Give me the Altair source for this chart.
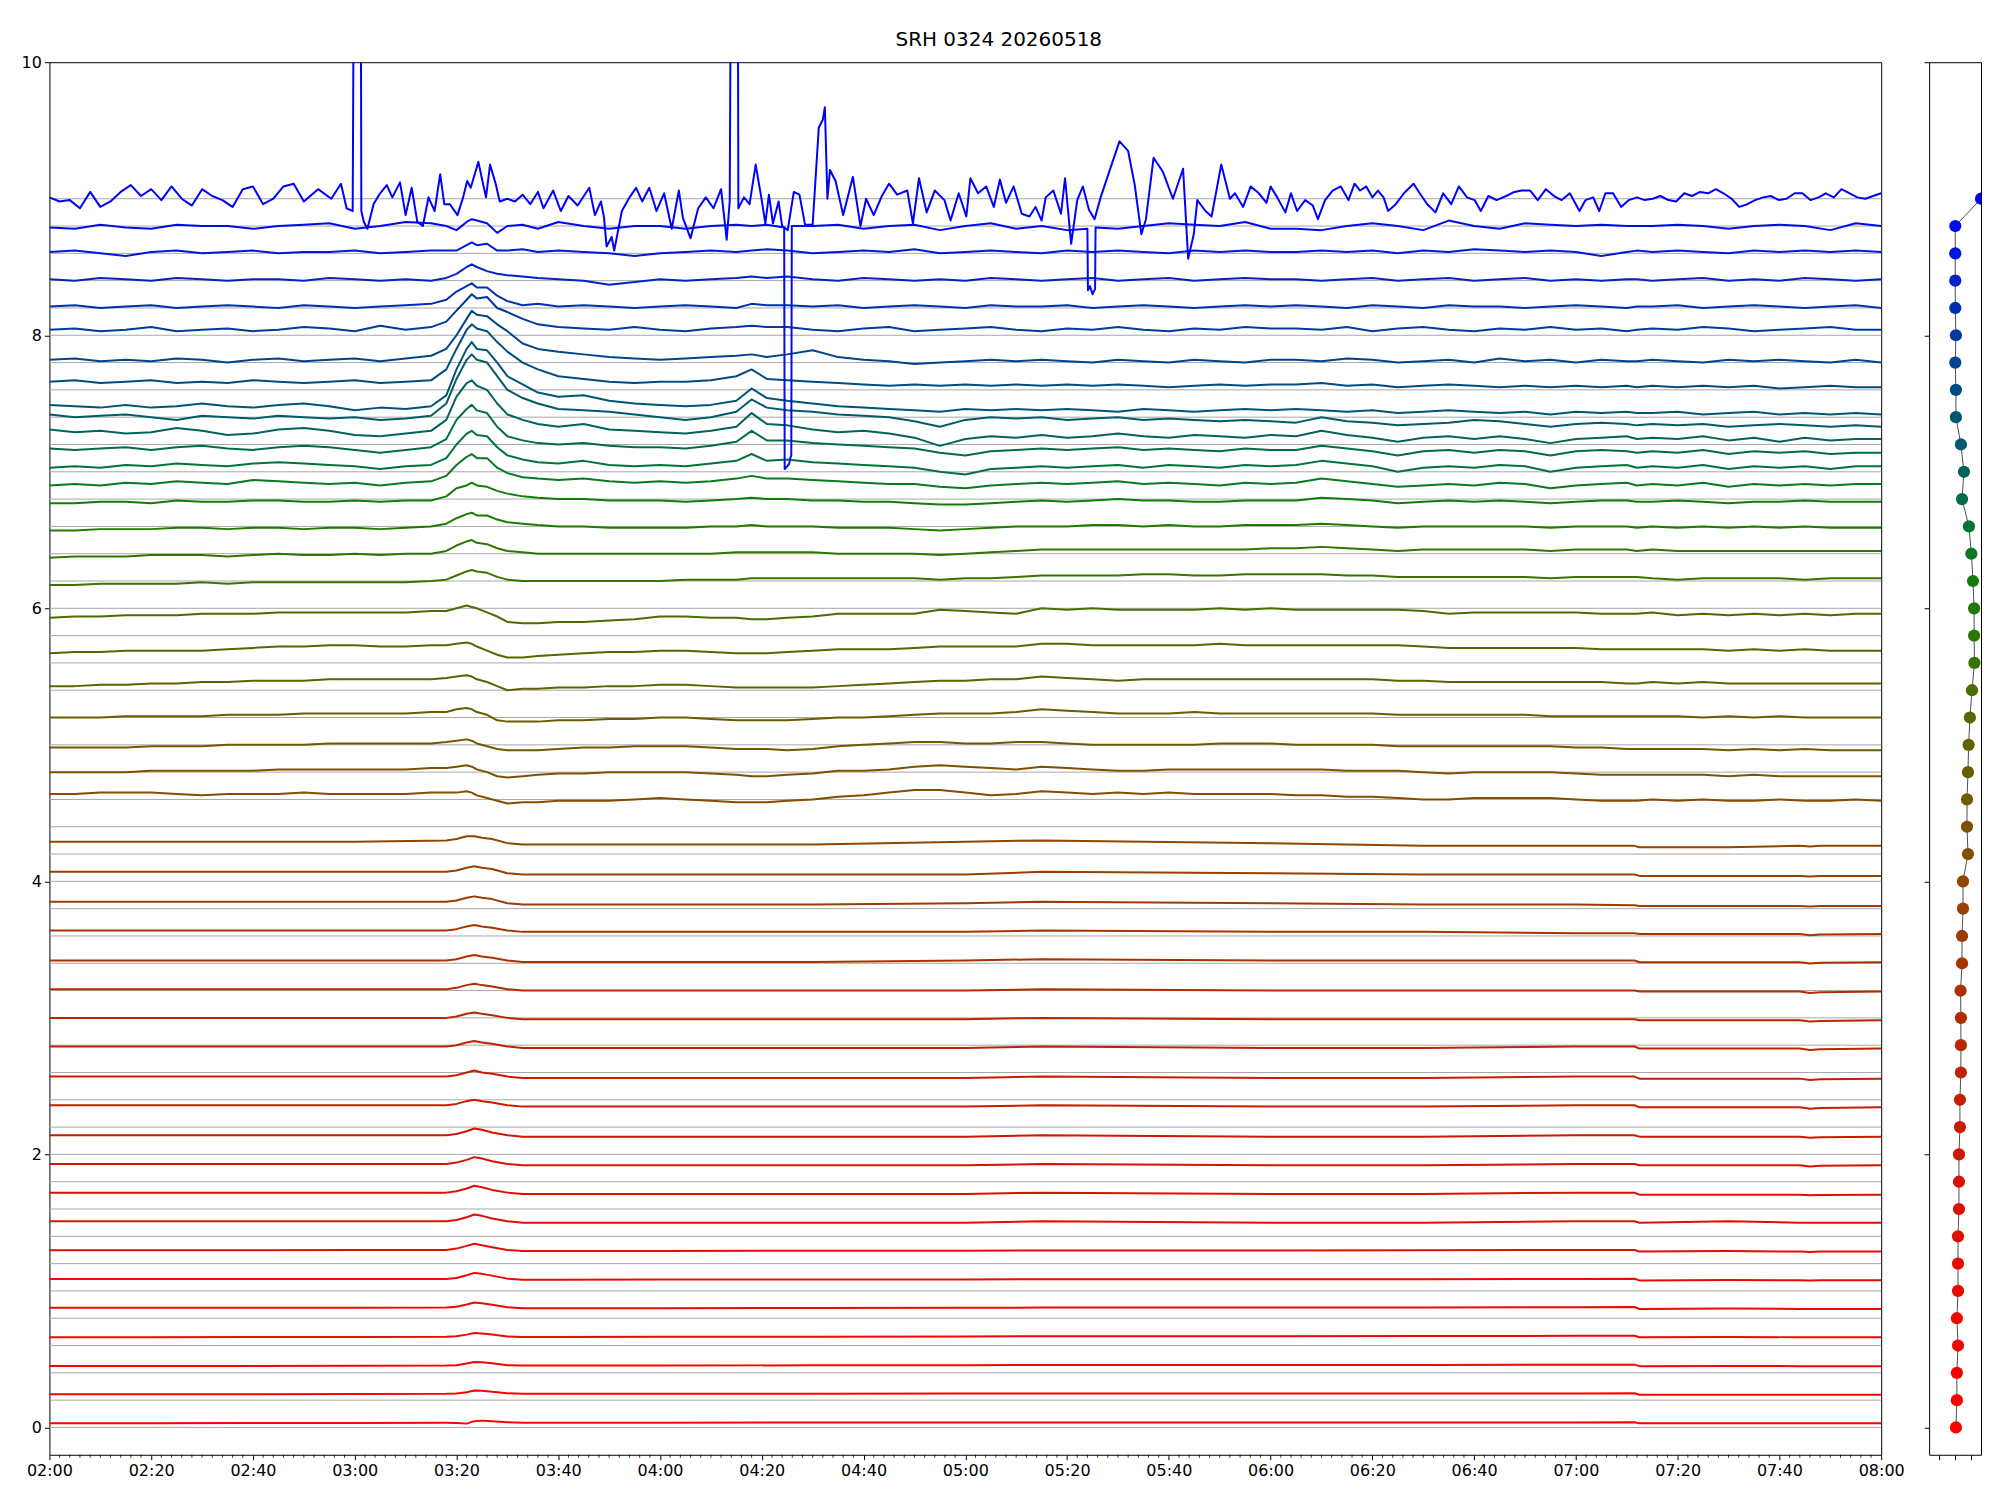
import altair as alt
import pandas as pd

alt.data_transformers.disable_max_rows()

TITLE = "SRH 0324 20260518"

# ---- time grids (minutes after 02:00) ----
TG = ([0, 5, 10, 15, 20, 25, 30, 35, 40, 45, 50, 55, 60, 65, 70, 75]
      + [78, 80, 82, 83, 84, 86, 88, 90]
      + [93, 96, 100, 105, 110, 115, 120, 125, 130, 135]
      + [138, 141]
      + [145, 150, 155, 160, 165, 170, 175, 180, 185, 190]
      + [195, 200, 205, 210, 215, 220, 225, 230, 235, 240]
      + [245, 250, 255, 260, 265, 270, 275, 280, 285, 290, 295]
      + [300, 305, 310, 312]
      + [315, 320, 325, 330, 335, 340, 345, 350, 355, 360])

TQ = [0, 20, 40, 60, 78, 80, 82, 83.5, 85, 87, 90, 93, 100, 120, 150, 180,
      195, 240, 270, 300, 311.5, 312.5, 330, 344, 346, 348, 360]

# channel levels (grey guide lines and dots of the right panel)
LEVELS = [round(0.2 * k, 1) for k in range(46)]

# right panel x position of each channel dot (channel 0 .. 45)
DOT_X = [2.04, 2.10, 2.10, 2.17, 2.10, 2.17, 2.17, 2.17, 2.23, 2.23,
         2.23, 2.29, 2.29, 2.35, 2.35, 2.35, 2.33, 2.42, 2.42, 2.48,
         2.48, 2.79, 2.73, 2.73, 2.79, 2.83, 2.91, 3.04, 3.19, 3.17,
         3.17, 3.10, 3.00, 2.85, 2.42, 2.54, 2.35, 2.04, 2.04, 2.00,
         2.04, 2.00, 2.00, 2.00, 2.00, 3.60]

COLORS = ["#ff0000", "#fb0200", "#f70400", "#f20600", "#ee0800", "#e90a00",
          "#e40c00", "#df0e00", "#da1000", "#d51300", "#d01600", "#ca1a00",
          "#c41e00", "#be2200", "#b82700", "#b22c00", "#ac3100", "#a53600",
          "#9e3b00", "#974000", "#904500", "#864c00", "#7c5200", "#725800",
          "#685e00", "#5e6300", "#546800", "#4a6d00", "#3c7200", "#2e7600",
          "#207a00", "#127c08", "#087a20", "#027438", "#006c4a", "#00645a",
          "#005c68", "#005474", "#004c80", "#00448c", "#003a9c", "#0030ae",
          "#0024c4", "#0018d8", "#000cec", "#0000ff"]

# ---- quiet channels on TQ (values x100) ----
QUIET = {
    0: [3.1, 3.1, 3.2, 3.3, 3.4, 3.3, 2.8, 4.6, 5, 4.6, 3.8, 3.5, 3.5, 3.5, 3.6, 3.6, 3.6, 3.6, 3.7, 3.7, 3.8, 3, 3, 3, 3, 3, 3],
    1: [24.3, 24.3, 24.4, 24.5, 24.6, 24.9, 25.8, 27, 26.8, 26.2, 25, 24.6, 24.6, 24.7, 24.7, 24.8, 24.8, 24.8, 24.9, 24.9, 25, 23.9, 24, 24, 24, 24, 24],
    2: [45, 45, 45.1, 45.2, 45.3, 45.6, 46.8, 48, 47.7, 47, 45.6, 45.3, 45.3, 45.4, 45.5, 45.6, 45.7, 45.7, 45.8, 45.9, 46, 44.9, 45, 44.9, 44.9, 44.9, 44.9],
    3: [66.1, 66.1, 66.2, 66.3, 66.4, 66.8, 68, 69.2, 68.8, 68, 66.6, 66.3, 66.3, 66.4, 66.5, 66.6, 66.8, 66.8, 66.9, 67.1, 67.2, 66.1, 66.3, 66.1, 66, 66.1, 66.1],
    4: [87.6, 87.6, 87.7, 87.7, 87.8, 88.4, 90, 91.5, 91, 89.8, 88, 87.3, 87.3, 87.4, 87.5, 87.6, 87.8, 87.8, 87.9, 88.1, 88.2, 86.8, 87.1, 86.8, 86.7, 86.8, 86.8],
    5: [108.7, 108.7, 108.8, 108.8, 108.8, 109.5, 111.5, 113.2, 112.5, 111.2, 109, 108.2, 108.2, 108.3, 108.3, 108.4, 108.6, 108.5, 108.5, 108.8, 108.9, 107.7, 108, 107.8, 107.6, 107.8, 107.8],
    6: [129.8, 129.8, 129.8, 129.9, 130, 131, 133, 134.5, 133.5, 132, 130, 129.2, 129.2, 129.3, 129.4, 129.5, 129.7, 129.7, 129.8, 130, 130, 128.8, 129.2, 128.8, 128.6, 128.8, 128.8],
    7: [151, 151, 151, 151, 151, 152, 154, 156, 155, 153, 151, 150, 150, 150, 150, 150, 151, 150, 150, 151, 151, 150, 151, 150, 150, 150, 150],
    8: [172, 172, 172, 172, 172, 173, 175, 177, 176, 174, 172, 171, 171, 171, 171, 171, 172, 171, 171, 172, 172, 170.5, 170.5, 170.5, 170, 170.3, 170.5],
    9: [193, 193, 193, 193, 193, 194, 196, 198, 197, 195, 193, 192, 192, 192, 192, 192, 193, 192, 192, 193, 193, 192, 192, 192, 191.2, 191.6, 192],
    10: [214, 214, 214, 214, 214, 215, 217, 219, 218, 216, 214, 213, 213, 213, 213, 213, 214, 213, 213, 214, 214, 213, 213, 213, 212.2, 212.6, 213],
    11: [236, 236, 236, 236, 236, 237, 239, 240, 239, 238, 236, 235, 235, 235, 235, 235, 236, 235, 235, 236, 236, 234.5, 234.5, 234.5, 233.5, 234, 234.5],
    12: [257, 257, 257, 257, 257, 258, 260, 261.5, 260, 259, 257, 256, 256, 256, 256, 256, 257, 256, 256, 257, 257, 255.5, 255.5, 255.5, 254.5, 255, 255.5],
    13: [279, 279, 279, 279, 279, 280, 282, 283, 282, 281, 279, 278, 278, 278, 278, 278, 279, 278, 278, 279, 279, 277.5, 277.5, 277.5, 276.5, 277, 277.5],
    14: [300, 300, 300, 300, 300, 301, 303, 304, 303, 302, 300, 299, 299, 299, 299, 299, 300, 299, 299, 299, 299, 298.3, 298.3, 298.3, 297.3, 297.8, 298.3],
    15: [321, 321, 321, 321, 321, 322, 324, 325, 324, 323, 321, 320, 320, 320, 320, 320, 321, 320, 320, 320, 320, 319.3, 319.3, 319.3, 318.3, 318.8, 319.3],
    16: [342, 342, 342, 342, 342, 343, 345, 346, 345, 344, 342, 341, 341, 341, 341, 342, 343, 342, 342, 342, 342, 340.8, 340.8, 340.8, 339.8, 340.3, 340.8],
    17: [364, 364, 364, 364, 364, 365, 367, 368, 367, 366, 364, 363, 363, 363, 363, 363, 364, 363, 363, 362, 362, 361.5, 361.5, 361.5, 360.5, 361, 361.5],
    18: [385, 385, 385, 385, 385, 386, 388, 389, 388, 387, 384, 383, 383, 383, 383, 384, 385, 384, 383, 383, 382.5, 382, 382, 382, 381.5, 382, 382],
    19: [407, 407, 407, 407, 407, 408, 410, 411, 410, 409, 406, 405, 405, 405, 405, 405, 407, 406, 405, 405, 405, 404, 404, 404, 403.6, 404, 404],
    20: [429, 429, 429, 429, 430, 431, 433, 433, 432, 431, 428, 427, 427, 427, 427, 429, 430, 428, 426, 426, 426, 425, 425, 426, 425.5, 426, 426],
}

# ---- wiggly channels on TG (values x100) ----
WIGGLY = {
    21: [464, 464, 465, 465, 465, 464, 463, 464, 464, 464, 465, 464, 464, 464, 464, 465,
         465, 465, 466, 465, 463, 461, 459, 457,
         458, 458, 459, 459, 459, 460, 461, 460, 459, 458,
         458, 458,
         459, 460, 462, 463, 465, 467, 467, 465, 463, 464,
         466, 465, 464, 465, 464, 465, 464, 464, 464, 464,
         463, 463, 462, 462, 461, 460, 460, 461, 461, 461, 461,
         460, 459, 459, 459,
         460, 459, 460, 459, 459, 460, 459, 459, 460, 459],
    22: [480, 480, 480, 480, 481, 481, 481, 481, 481, 482, 482, 482, 482, 482, 482, 483,
         483, 484, 485, 484, 482, 480, 477, 476,
         477, 478, 479, 479, 480, 480, 480, 480, 479, 478,
         477, 477,
         478, 479, 481, 481, 482, 484, 485, 484, 483, 482,
         484, 483, 482, 481, 481, 482, 482, 482, 482, 482,
         482, 482, 481, 481, 481, 480, 479, 480, 480, 480, 480,
         479, 478, 478, 478,
         478, 478, 478, 477, 478, 477, 477, 477, 477, 477],
    23: [498, 498, 498, 498, 499, 499, 499, 500, 500, 500, 500, 501, 501, 501, 501, 501,
         502, 503, 504, 503, 501, 499, 497, 496,
         496, 496, 497, 498, 498, 499, 499, 499, 498, 497,
         497, 497,
         496, 497, 499, 500, 501, 502, 502, 501, 501, 502,
         502, 501, 500, 500, 500, 500, 500, 501, 501, 501,
         500, 500, 500, 500, 499, 499, 499, 499, 499, 499, 499,
         498, 498, 497, 497,
         497, 497, 497, 496, 497, 496, 497, 496, 496, 496],
    24: [520, 520, 520, 521, 521, 521, 521, 522, 522, 522, 523, 523, 523, 523, 523, 524,
         524, 526, 527, 526, 524, 522, 518, 517,
         517, 517, 518, 518, 519, 519, 520, 520, 519, 518,
         518, 518,
         518, 519, 520, 520, 521, 522, 523, 523, 523, 524,
         526, 525, 524, 523, 523, 523, 524, 523, 523, 523,
         523, 523, 523, 523, 522, 522, 522, 522, 522, 522, 521,
         521, 521, 521, 521,
         521, 521, 520, 521, 520, 521, 520, 520, 520, 520],
    25: [543, 543, 544, 544, 545, 545, 546, 546, 547, 547, 547, 548, 548, 548, 548, 548,
         549, 550, 551, 550, 548, 546, 543, 540,
         541, 541, 542, 542, 543, 543, 544, 544, 543, 542,
         542, 542,
         542, 542, 543, 544, 545, 546, 547, 547, 548, 548,
         550, 549, 548, 547, 548, 548, 548, 548, 548, 548,
         548, 548, 548, 548, 547, 547, 546, 546, 546, 546, 546,
         546, 546, 545, 545,
         546, 545, 546, 545, 545, 545, 545, 545, 545, 545],
    26: [567, 568, 568, 569, 569, 569, 569, 570, 571, 572, 572, 573, 573, 572, 572, 573,
         573, 574, 575, 574, 572, 569, 566, 564,
         564, 565, 566, 567, 568, 568, 569, 569, 568, 567,
         567, 567,
         568, 569, 570, 570, 570, 571, 572, 572, 572, 572,
         574, 574, 573, 573, 573, 573, 573, 574, 573, 573,
         573, 573, 573, 573, 573, 572, 571, 571, 571, 571, 571,
         571, 570, 570, 570,
         570, 570, 570, 569, 570, 569, 570, 569, 569, 569],
    27: [593, 594, 594, 595, 595, 595, 596, 596, 596, 597, 597, 597, 597, 597, 597, 598,
         598, 600, 602, 601, 600, 597, 594, 590,
         589, 589, 590, 590, 591, 592, 594, 594, 593, 593,
         592, 592,
         593, 594, 596, 596, 596, 596, 599, 598, 597, 596,
         600, 599, 600, 599, 599, 599, 599, 600, 599, 600,
         599, 599, 599, 599, 599, 598, 596, 597, 597, 597, 597,
         597, 596, 596, 596,
         597, 595, 596, 595, 596, 595, 596, 595, 596, 596],
    28: [617, 617, 618, 618, 618, 618, 619, 618, 619, 619, 619, 619, 619, 619, 619, 620,
         621, 624, 627, 628, 627, 626, 623, 621,
         620, 620, 620, 620, 620, 620, 620, 621, 621, 621,
         622, 622,
         622, 622, 622, 622, 622, 622, 621, 622, 622, 623,
         624, 624, 624, 624, 625, 625, 624, 624, 625, 625,
         625, 625, 624, 624, 623, 623, 623, 623, 623, 623, 622,
         623, 623, 623, 623,
         622, 621, 622, 622, 622, 622, 621, 622, 622, 622],
    29: [637, 638, 638, 638, 639, 639, 639, 638, 639, 640, 639, 639, 640, 639, 640, 640,
         642, 646, 649, 650, 648, 647, 644, 642,
         641, 640, 640, 640, 640, 640, 640, 640, 640, 641,
         641, 641,
         641, 641, 640, 640, 640, 640, 639, 640, 641, 642,
         643, 643, 643, 643, 643, 643, 643, 643, 643, 644,
         644, 645, 644, 643, 642, 643, 643, 643, 643, 643, 642,
         643, 643, 643, 642,
         643, 642, 642, 642, 642, 642, 642, 642, 642, 642],
    30: [657, 657, 658, 658, 658, 659, 659, 658, 659, 659, 658, 659, 659, 658, 659, 660,
         662, 666, 669, 670, 668, 668, 665, 663,
         662, 661, 660, 660, 659, 659, 659, 659, 660, 660,
         661, 660,
         660, 660, 659, 659, 659, 658, 657, 658, 659, 660,
         660, 660, 661, 661, 660, 661, 660, 660, 661, 661,
         661, 662, 661, 660, 659, 660, 660, 660, 660, 660, 659,
         660, 660, 660, 659,
         660, 659, 660, 659, 660, 659, 660, 659, 659, 659],
    31: [677, 677, 678, 678, 677, 679, 678, 678, 679, 679, 678, 678, 679, 678, 679, 679,
         682, 688, 690, 692, 690, 689, 686, 684,
         682, 681, 680, 680, 679, 679, 679, 678, 679, 680,
         681, 680,
         680, 679, 679, 678, 678, 677, 676, 676, 677, 678,
         679, 678, 679, 680, 679, 679, 678, 678, 679, 679,
         679, 681, 680, 679, 677, 678, 679, 678, 679, 678, 677,
         678, 679, 679, 678,
         678, 679, 678, 677, 678, 678, 679, 678, 678, 678],
    32: [690, 691, 690, 692, 691, 693, 692, 691, 694, 693, 692, 691, 692, 690, 692, 693,
         697, 705, 711, 713, 710, 710, 703, 699,
         696, 695, 694, 695, 693, 692, 693, 692, 693, 695,
         697, 695,
         695, 694, 693, 692, 691, 691, 689, 688, 690, 691,
         692, 691, 692, 693, 691, 692, 691, 690, 692, 691,
         692, 695, 693, 691, 689, 690, 691, 690, 692, 691, 688,
         690, 691, 692, 690,
         691, 690, 692, 689, 691, 690, 691, 690, 691, 691],
    33: [703, 704, 703, 705, 704, 706, 705, 704, 706, 707, 706, 705, 704, 702, 704, 705,
         710, 720, 728, 730, 727, 726, 718, 712,
         709, 707, 706, 708, 705, 704, 705, 704, 706, 708,
         713, 708,
         709, 707, 706, 705, 704, 703, 700, 698, 702, 703,
         704, 703, 704, 705, 703, 705, 704, 703, 705, 704,
         705, 708, 706, 704, 700, 703, 704, 703, 705, 704, 700,
         703, 704, 705, 703,
         704, 703, 705, 702, 704, 703, 704, 702, 704, 704],
    34: [717, 716, 717, 718, 716, 718, 719, 717, 716, 718, 719, 718, 716, 714, 716, 718,
         724, 738, 746, 749, 745, 743, 733, 726,
         723, 721, 720, 721, 719, 718, 718, 717, 719, 722,
         730, 723,
         723, 721, 720, 719, 718, 717, 714, 712, 715, 716,
         717, 716, 717, 718, 716, 717, 716, 715, 717, 716,
         716, 719, 717, 715, 712, 715, 716, 714, 716, 715, 712,
         715, 716, 715, 714,
         715, 714, 716, 713, 715, 714, 715, 713, 714, 714],
    35: [731, 729, 730, 728, 729, 732, 730, 727, 728, 731, 732, 730, 727, 726, 728, 730,
         738, 755, 765, 767, 763, 760, 750, 742,
         738, 735, 733, 735, 731, 730, 729, 728, 730, 733,
         743, 735,
         734, 731, 729, 730, 728, 725, 719, 724, 726, 725,
         727, 725, 726, 728, 726, 725, 727, 726, 725, 727,
         726, 730, 727, 725, 722, 725, 726, 724, 726, 724, 721,
         724, 725, 726, 724,
         725, 724, 726, 723, 725, 722, 725, 723, 724, 724],
    36: [742, 740, 741, 742, 740, 738, 741, 740, 739, 741, 740, 739, 740, 738, 739, 741,
         750, 768, 782, 786, 782, 780, 770, 760,
         754, 750, 746, 745, 744, 742, 740, 738, 740, 744,
         753, 747,
         745, 744, 742, 741, 740, 737, 733, 738, 740, 739,
         740, 738, 739, 740, 738, 739, 738, 737, 738, 737,
         736, 740, 737, 736, 734, 735, 736, 738, 737, 735, 733,
         735, 736, 735, 734,
         735, 734, 735, 733, 734, 735, 734, 733, 734, 733],
    37: [749, 748, 747, 749, 747, 748, 750, 748, 747, 749, 750, 748, 745, 747, 746, 748,
         756, 775, 790, 795, 790, 789, 780, 770,
         764, 758, 755, 756, 752, 750, 749, 748, 749, 752,
         761, 754,
         752, 750, 748, 747, 746, 745, 744, 746, 745, 746,
         745, 746, 745, 744, 746, 745, 744, 745, 746, 745,
         746, 745, 744, 745, 743, 744, 745, 744, 743, 744, 742,
         744, 743, 744, 743,
         743, 744, 742, 743, 744, 742, 743, 742, 743, 742],
    38: [766, 767, 765, 766, 767, 765, 766, 765, 767, 766, 765, 766, 767, 765, 766, 767,
         775, 790, 804, 808, 805, 803, 795, 788,
         780, 775, 770, 768, 766, 765, 766, 766, 767, 770,
         775, 768,
         767, 766, 765, 764, 763, 764, 763, 764, 763, 764,
         763, 764, 763, 764, 763, 762, 763, 764, 763, 764,
         764, 765, 763, 764, 762, 763, 764, 763, 762, 763, 762,
         763, 762, 763, 762,
         763, 762, 763, 762, 763, 761, 762, 763, 762, 762],
    39: [782, 783, 781, 782, 781, 783, 782, 780, 782, 783, 781, 782, 783, 781, 783, 785,
         790, 800, 812, 818, 815, 814, 808, 803,
         794, 790, 788, 786, 784, 783, 782, 783, 784, 785,
         786, 784,
         786, 789, 784, 782, 781, 779, 780, 781, 782, 781,
         782, 781, 780, 782, 781, 780, 782, 781, 780, 782,
         782, 781, 783, 782, 780, 781, 782, 780, 783, 781, 782,
         780, 782, 781, 781,
         782, 781, 780, 782, 781, 782, 781, 780, 782, 780],
    40: [804, 805, 803, 804, 806, 803, 804, 805, 803, 804, 806, 805, 803, 807, 804, 806,
         810, 818, 826, 830, 827, 828, 820, 817,
         812, 808, 806, 805, 804, 806, 804, 803, 805, 806,
         807, 806,
         806, 804, 803, 805, 806, 803, 804, 805, 806, 804,
         803, 805, 804, 806, 804, 803, 805, 804, 806, 805,
         805, 804, 806, 803, 805, 806, 804, 803, 805, 804, 806,
         804, 805, 803, 804,
         805, 804, 806, 805, 803, 804, 805, 806, 804, 804],
    41: [821, 822, 820, 821, 822, 820, 821, 822, 821, 820, 822, 821, 820, 821, 822, 823,
         826, 832, 836, 838, 835, 835, 829, 825,
         822, 823, 821, 822, 821, 820, 821, 822, 821, 820,
         823, 822,
         822, 821, 822, 820, 821, 822, 821, 820, 822, 821,
         821, 822, 820, 821, 822, 821, 820, 821, 822, 821,
         822, 821, 820, 822, 821, 820, 822, 821, 821, 820, 821,
         822, 821, 820, 821,
         821, 822, 820, 821, 822, 821, 820, 821, 822, 820],
    42: [841, 840, 842, 841, 840, 842, 841, 840, 841, 841, 840, 842, 841, 840, 841, 840,
         842, 845, 850, 852, 850, 847, 845, 844,
         843, 842, 841, 840, 837, 839, 841, 840, 841, 842,
         843, 842,
         843, 841, 840, 842, 841, 840, 841, 840, 842, 841,
         840, 841, 842, 840, 841, 842, 840, 841, 842, 841,
         841, 840, 841, 842, 840, 841, 842, 840, 841, 842, 840,
         841, 840, 841, 841,
         840, 841, 842, 840, 841, 840, 842, 841, 840, 841],
    43: [861, 862, 860, 858, 861, 862, 860, 861, 862, 860, 861, 861, 862, 860, 861, 862,
         862, 862, 866, 868, 866, 867, 862, 862,
         863, 861, 862, 861, 860, 858, 860, 861, 862, 861,
         862, 863,
         862, 860, 861, 862, 861, 863, 860, 861, 862, 861,
         860, 862, 861, 862, 861, 860, 862, 861, 862, 861,
         861, 862, 861, 862, 860, 862, 861, 863, 862, 861, 862,
         861, 858, 861, 862,
         861, 862, 861, 860, 862, 861, 862, 861, 862, 861],
    44: [879, 878, 881, 879, 878, 881, 880, 880, 878, 880, 881, 882, 878, 880, 883, 882,
         880, 877, 883, 885, 884, 882, 875, 880,
         881, 878, 883, 880, 878, 880, 880, 878, 880, 881,
         880, 881,
         880, 880, 881, 878, 880, 881, 877, 880, 882, 878,
         880, 877, 880, 878, 880, 882, 881, 880, 883, 878,
         878, 877, 880, 882, 880, 877, 884, 880, 878, 882, 881,
         880, 881, 880, 880,
         880, 881, 880, 878, 880, 881, 880, 877, 882, 880],
}

# narrow downward spikes of channel 44 (minutes, value)
SPIKES_44 = [
    [(144.4, 8.79), (144.5, 7.02), (145.0, 7.04), (145.4, 7.06), (145.6, 7.10), (145.8, 7.12), (145.9, 8.80)],
    [(204.0, 8.78), (204.1, 8.33), (204.5, 8.36), (205.0, 8.30), (205.5, 8.34), (205.6, 8.79)],
]

# top channel 45 (minutes, value)
CH45 = [
    (0, 9.01), (2, 8.98), (4, 8.99), (6, 8.93), (8, 9.05), (10, 8.94), (12, 8.98), (14, 9.05),
    (16, 9.10), (18, 9.02), (20, 9.07), (22, 8.99), (24, 9.09), (26, 9.00), (28, 8.95), (30, 9.07),
    (32, 9.02), (34, 8.99), (36, 8.94), (38, 9.07), (40, 9.09), (42, 8.96), (44, 9.00), (46, 9.09),
    (48, 9.11), (50, 8.98), (52.8, 9.07), (55.4, 9.00), (57.3, 9.11), (58.4, 8.93), (59.6, 8.91),
    (59.8, 10.6), (61.2, 10.6), (61.3, 8.91), (61.8, 8.83), (62.5, 8.78), (63.7, 8.96), (64.8, 9.03),
    (66.3, 9.10), (67.4, 9.01), (68.9, 9.12), (70.0, 8.88), (71.2, 9.08), (72.3, 8.83), (73.4, 8.80),
    (74.5, 9.01), (75.7, 8.91), (76.8, 9.18), (77.6, 8.96), (78.7, 8.96), (80.2, 8.88), (81.3, 9.01),
    (82.1, 9.13), (82.8, 9.08), (84.3, 9.27), (85.1, 9.13), (85.8, 9.01), (86.6, 9.25), (87.7, 9.11),
    (88.5, 8.98), (90.0, 9.00), (91.5, 8.98), (93.0, 9.03), (94.5, 8.96), (96.0, 9.05), (97.1, 8.93),
    (99.0, 9.06), (100.5, 8.91), (102.0, 9.02), (103.8, 8.95), (106.1, 9.08), (107.2, 8.88),
    (108.4, 8.98), (109.0, 8.86), (109.5, 8.65), (110.5, 8.72), (111.0, 8.62), (112.5, 8.91),
    (114.0, 9.01), (115.3, 9.08), (116.5, 8.98), (117.9, 9.08), (119.3, 8.91), (120.8, 9.04),
    (122.3, 8.78), (123.7, 9.06), (124.5, 8.86), (126.0, 8.71), (127.5, 8.93), (129.0, 9.01),
    (130.5, 8.93), (132.0, 9.07), (133.1, 8.70), (133.7, 8.98), (133.9, 10.6), (135.3, 10.6),
    (135.4, 8.93), (136.5, 9.01), (137.6, 8.96), (138.8, 9.25), (139.9, 9.01), (140.7, 8.82),
    (141.4, 9.03), (142.2, 8.82), (143.3, 8.98), (144.0, 8.80), (145.1, 8.77), (146.3, 9.05),
    (147.4, 9.03), (148.5, 8.81), (150.0, 8.81), (151.2, 9.52), (152.0, 9.58), (152.4, 9.67),
    (152.9, 9.00), (153.4, 9.21), (154.5, 9.13), (156.0, 8.88), (157.9, 9.16), (159.4, 8.80),
    (160.5, 9.00), (162.0, 8.88), (163.6, 9.02), (165.0, 9.11), (166.6, 9.03), (168.6, 9.06),
    (169.7, 8.82), (170.9, 9.15), (172.4, 8.90), (174.0, 9.06), (175.9, 8.99), (177.1, 8.84),
    (178.7, 9.04), (180.2, 8.87), (181.0, 9.15), (182.5, 9.04), (184.1, 9.09), (185.6, 8.94),
    (186.8, 9.14), (188.0, 8.97), (189.5, 9.09), (191.1, 8.89), (192.6, 8.87), (193.8, 8.94),
    (195.0, 8.84), (195.8, 9.01), (197.3, 9.06), (198.8, 8.89), (199.6, 9.15), (200.8, 8.67),
    (202.0, 8.99), (203.1, 9.09), (204.3, 8.92), (205.4, 8.85), (206.6, 9.01), (208.3, 9.20),
    (210.3, 9.42), (212.0, 9.35), (213.3, 9.10), (214.6, 8.74), (215.5, 8.85), (217.0, 9.30),
    (218.8, 9.20), (220.8, 9.00), (222.8, 9.22), (223.8, 8.56), (224.9, 8.74), (225.6, 8.99),
    (227.2, 8.91), (228.4, 8.87), (230.3, 9.25), (232.0, 9.00), (233.0, 9.04), (234.6, 8.94),
    (236.1, 9.09), (237.7, 9.04), (239.2, 8.97), (240.0, 9.09), (241.3, 9.01), (242.9, 8.90),
    (244.0, 9.04), (245.2, 8.91), (246.8, 8.99), (248.3, 8.95), (249.3, 8.85), (250.7, 8.99),
    (252.2, 9.06), (253.8, 9.09), (255.3, 8.99), (256.5, 9.11), (257.6, 9.06), (258.8, 9.09),
    (260.0, 9.01), (261.1, 9.06), (262.2, 9.01), (263.1, 8.91), (264.6, 8.96), (266.2, 9.04),
    (268.1, 9.11), (269.3, 9.04), (270.8, 8.96), (272.4, 8.90), (273.9, 9.04), (275.5, 8.96),
    (277.0, 9.09), (278.6, 9.01), (280.1, 8.99), (281.3, 8.91), (282.8, 9.02), (284.4, 8.99),
    (286.3, 9.02), (287.9, 9.05), (289.4, 9.06), (291.0, 9.06), (292.5, 8.99), (294.1, 9.07),
    (295.7, 9.02), (297.2, 8.99), (298.8, 9.04), (300.7, 8.91), (301.9, 8.99), (303.4, 9.01),
    (304.6, 8.91), (305.8, 9.04), (307.3, 9.04), (308.9, 8.94), (310.4, 8.99), (312.0, 9.01),
    (313.5, 8.99), (315.1, 9.00), (316.6, 9.02), (318.2, 8.99), (319.7, 8.98), (321.3, 9.04),
    (322.8, 9.02), (324.4, 9.05), (326.0, 9.04), (327.5, 9.07), (329.0, 9.04), (330.6, 9.00),
    (332.1, 8.94), (333.7, 8.96), (335.2, 8.99), (336.8, 9.01), (338.3, 9.02), (339.9, 8.99),
    (341.4, 9.00), (343.0, 9.04), (344.5, 9.04), (346.1, 8.99), (347.7, 9.01), (349.1, 9.04),
    (350.7, 9.01), (352.2, 9.07), (353.8, 9.04), (355.3, 9.01), (356.9, 9.00), (358.4, 9.02),
    (360.0, 9.04),
]

# ---------------- build tables ----------------
rows_low, rows_44, rows_45 = [], [], []
for ch, vals in QUIET.items():
    for t, v in zip(TQ, vals):
        rows_low.append({"ch": ch, "t": t, "v": v / 100.0})
for ch, vals in WIGGLY.items():
    pts = [(t, v / 100.0) for t, v in zip(TG, vals)]
    if ch == 44:
        for grp in SPIKES_44:
            lo, hi = grp[0][0], grp[-1][0]
            pts = [p for p in pts if not (lo <= p[0] <= hi)] + list(grp)
        pts.sort()
        for t, v in pts:
            rows_44.append({"ch": ch, "t": t, "v": v})
    else:
        for t, v in pts:
            rows_low.append({"ch": ch, "t": t, "v": v})
for t, v in CH45:
    rows_45.append({"ch": 45, "t": t, "v": v})

df_low = pd.DataFrame(rows_low)
df_44 = pd.DataFrame(rows_44)
df_45 = pd.DataFrame(rows_45)
df_grid = pd.DataFrame({"level": LEVELS})
df_minor = pd.DataFrame({"t": [m for m in range(0, 361, 2) if m % 20 != 0]})
df_dots = pd.DataFrame({"ch": list(range(46)), "level": LEVELS, "dx": DOT_X})

# ---------------- chart ----------------
W1, H, W2 = 1835, 1395, 52
FONT = "DejaVu Sans"

XS = alt.Scale(domain=[0, 360], nice=False, zero=False)
YS = alt.Scale(domain=[-0.2, 10], nice=False, zero=False)
CS = alt.Scale(domain=list(range(46)), range=COLORS)

label_expr = ("(floor(datum.value/60)+2 < 10 ? '0' : '') + (floor(datum.value/60)+2) + ':' + "
              "(datum.value % 60 < 10 ? '0' : '') + (datum.value % 60)")
XAX = alt.Axis(values=list(range(0, 361, 20)), labelExpr=label_expr, title=None, grid=False,
               domain=False, tickSize=5, tickColor="black", tickWidth=1, labelFontSize=16,
               labelColor="black", labelFont=FONT, labelPadding=3, labelFlush=False,
               labelOverlap=False)
YAX = alt.Axis(values=[0, 2, 4, 6, 8, 10], format="d", title=None, grid=False, domain=False,
               tickSize=5, tickColor="black", tickWidth=1, labelFontSize=16, labelColor="black",
               labelFont=FONT, labelPadding=3, minExtent=33, maxExtent=33)

X = alt.X("t:Q", scale=XS, axis=XAX)
Y = alt.Y("v:Q", scale=YS, axis=YAX)
C = alt.Color("ch:N", scale=CS, legend=None)

grid = alt.Chart(df_grid).mark_rule(color="#a8a8a8", strokeWidth=1).encode(
    y=alt.Y("level:Q", scale=YS, axis=YAX), x=alt.value(0), x2=alt.value(W1))
lines_low = alt.Chart(df_low).mark_line(strokeWidth=2, clip=True, strokeJoin="round").encode(
    x=X, y=Y, color=C, detail="ch:N")
line_44 = alt.Chart(df_44).mark_line(strokeWidth=2, clip=True, strokeJoin="round").encode(
    x=X, y=Y, color=C)
line_45 = alt.Chart(df_45).mark_line(strokeWidth=2, clip=True, strokeJoin="round").encode(
    x=X, y=Y, color=C)
minor = alt.Chart(df_minor).mark_rule(color="black", strokeWidth=0.8).encode(
    x=X, y=alt.value(H), y2=alt.value(H + 3))

main = alt.layer(grid, lines_low, line_44, line_45, minor).properties(width=W1, height=H)

SX = alt.X("dx:Q", scale=alt.Scale(domain=[0.375, 3.6], nice=False, zero=False),
           axis=alt.Axis(values=[1, 2, 3], labels=False, title=None, grid=False, domain=False,
                         tickSize=5, tickColor="black"))
SY = alt.Y("level:Q", scale=YS,
           axis=alt.Axis(values=[0, 2, 4, 6, 8, 10], labels=False, title=None, grid=False,
                         domain=False, tickSize=5, tickColor="black", minExtent=0))
side_line = alt.Chart(df_dots).mark_line(color="#222222", strokeWidth=0.8, clip=True).encode(
    x=SX, y=SY, order="level:Q")
side_pts = alt.Chart(df_dots).mark_circle(size=150, opacity=1, clip=True).encode(
    x=SX, y=SY, color=C)
side = alt.layer(side_line, side_pts).properties(width=W2, height=H)

chart = alt.hconcat(main, side, spacing=48, bounds="flush").properties(
    title=alt.TitleParams(TITLE, fontSize=20, font=FONT, fontWeight="normal", anchor="middle",
                          frame="bounds", offset=4, color="black"),
    padding={"left": 7.5, "top": 20, "right": 10, "bottom": 10},
).configure(font=FONT).configure_view(stroke="black", strokeWidth=1)

chart.save("out.html", embed_options={"renderer": "svg", "actions": False})
